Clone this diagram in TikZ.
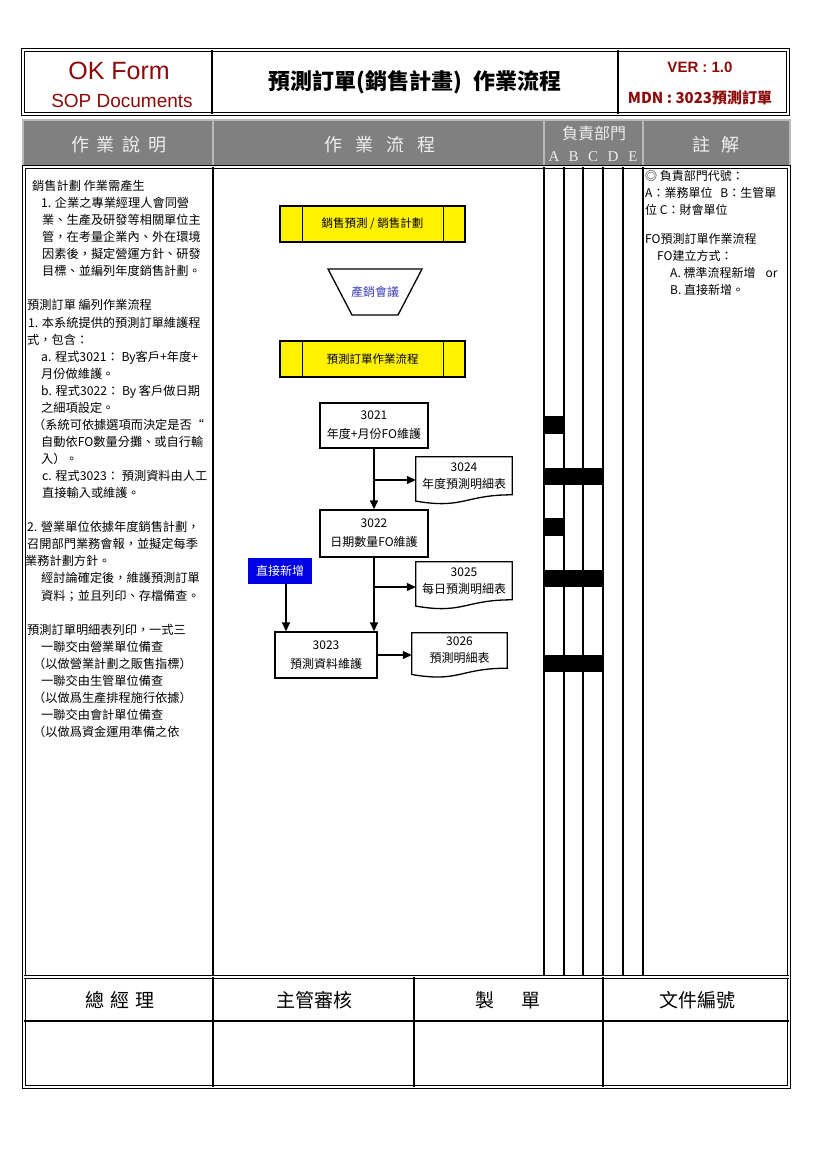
\documentclass[tikz,border=0pt]{standalone}
\usepackage{fontspec}
\setmainfont{Liberation Sans}
\newfontfamily\cjk{Noto Sans CJK TC}
\newfontfamily\abcfont{Liberation Serif}
\usetikzlibrary{
  arrows.meta,  % Triangle 箭頭
  calc,         % 座標計算
  positioning   % 節點相對定位
}
\definecolor{okred}{RGB}{140,10,10}
\definecolor{headgray}{RGB}{128,128,128}
\definecolor{headedge}{RGB}{185,185,185}
\definecolor{headtext}{RGB}{238,238,238}
\definecolor{meetblue}{RGB}{60,60,190}
\definecolor{directblue}{RGB}{0,0,230}

% 預定義處理框兩側的豎線
\newcommand{\sidebars}[1]{%
  \draw[line width=1.3pt] ($(#1.north west)+(23,0)$) -- ($(#1.south west)+(23,0)$);
  \draw[line width=1.3pt] ($(#1.north east)+(-22,0)$) -- ($(#1.south east)+(-22,0)$);}
% 文件（報表）外形：底邊為波浪線
\newcommand{\docoutline}[1]{%
  \draw[line width=1.3pt] (#1.north west) -- (#1.north east) -- (#1.south east)
    .. controls (#1.south) and ($(#1.south)+(0,14.5)$) .. ($(#1.south west)+(0,6.3)$) -- cycle;}

\begin{document}
\begin{tikzpicture}[x=1pt, y=-1pt,
  >={Triangle[length=9pt,width=8pt]},
  frame/.style={double, double distance=1.6pt, line width=0.9pt},
  rule/.style={line width=1.2pt},
  headtitle/.style={text=headtext, font=\cjk\fontsize{18}{18}\selectfont},
  yellowbox/.style={draw, line width=1.3pt, fill=yellow, minimum width=185pt, minimum height=36pt,
    inner sep=0pt, font=\cjk\fontsize{11.5}{14}\selectfont},
  procbox/.style={draw, line width=1.3pt, fill=white, align=center, inner sep=0pt,
    font=\cjk\fontsize{12}{19}\selectfont},
  docbox/.style={align=center, inner sep=0pt, minimum width=96pt, minimum height=37.6pt,
    font=\cjk\fontsize{12}{17}\selectfont},
  flow/.style={->, line width=1.3pt},
  footlabel/.style={font=\cjk\fontsize{19}{19}\selectfont}
]
  \useasboundingbox (0,0) rectangle (827,1170);

  % =============== 表頭：OK Form / 標題 / 版本 ===============
  \draw[frame] (23,50) rectangle (788,114);
  \draw[rule] (212,50) -- (212,114);
  \draw[rule] (618,50) -- (618,114);
  \node[font=\fontsize{25}{25}\selectfont, text=okred] (okform) at (119,71) {OK Form};
  \node[font=\fontsize{19}{19}\selectfont, text=okred] (sopdoc) at (122,101) {SOP Documents};
  \node[font=\cjk\bfseries\fontsize{22}{22}\selectfont] (title) at (415,82)
    {預測訂單(銷售計畫)\hspace{12pt}作業流程};
  \node[font=\bfseries\fontsize{15}{15}\selectfont, text=okred] (ver) at (700,67) {VER : 1.0};
  \node[font=\cjk\bfseries\fontsize{15}{15}\selectfont, text=okred] (mdn) at (700,98) {MDN : 3023預測訂單};

  % =============== 灰色欄名列 ===============
  \fill[headgray] (23,120) rectangle (790,167);
  \draw[headedge, line width=2.5pt] (23,120) rectangle (790,167);
  \foreach \x in {213,544,643} \draw[headedge, line width=1.5pt] (\x,120) -- (\x,167);
  \node[headtitle] (hdesc) at (119,145) {作\hspace{8pt}業\hspace{8pt}說\hspace{8pt}明};
  \node[headtitle] (hflow) at (380,145) {作\hspace{13pt}業\hspace{13pt}流\hspace{13pt}程};
  \node[headtitle, font=\cjk\fontsize{16}{16}\selectfont] (hdept) at (594,133) {負責部門};
  \foreach \c/\x in {A/554, B/573.5, C/593, D/613, E/633}
    \node[text=headtext, font=\abcfont\fontsize{15}{15}\selectfont] (h\c) at (\x,157) {\c};
  \node[headtitle] (hnote) at (716,145) {註\hspace{11pt}解};

  % =============== 表身外框與分欄線 ===============
  \draw[frame] (24,167) rectangle (789,1087);
  \draw[frame] (24,977) -- (789,977);
  \draw[rule] (213,167) -- (213,976);
  \foreach \x in {544,564,583,603,623,643} \draw[rule] (\x,167) -- (\x,976);

  % 負責部門黑條（A~C）
  \foreach \ya/\yb/\xr in {416/434/564, 468/485/603, 518/536/564, 570/587/603, 655/672/603}
    \fill (544,\ya) rectangle (\xr,\yb);

  % =============== 作業說明 ===============
  \node[anchor=north west, align=left, inner sep=0pt, font=\cjk\fontsize{12.2}{17.06}\selectfont] (desc) at (27,180) {%
    \hspace*{5pt}銷售計劃 作業需產生\\
    \hspace*{14pt}1. 企業之專業經理人會同營\\
    \hspace*{15pt}業、生產及研發等相關單位主\\
    \hspace*{15pt}管，在考量企業內、外在環境\\
    \hspace*{15pt}因素後，擬定營運方針、研發\\
    \hspace*{15pt}目標、並編列年度銷售計劃。\\
    \mbox{}\\
    預測訂單 編列作業流程\\
    \hspace*{1pt}1. 本系統提供的預測訂單維護程\\
    式，包含：\\
    \hspace*{14pt}a. 程式3021： By客戶+年度+\\
    \hspace*{14pt}月份做維護。\\
    \hspace*{14pt}b. 程式3022： By 客戶做日期\\
    \hspace*{14pt}之細項設定。\\
    \hspace*{6pt}（系統可依據選項而決定是否“\\
    \hspace*{14pt}自動依FO數量分攤、或自行輸\\
    \hspace*{14pt}入）。\\
    \hspace*{15pt}c. 程式3023： 預測資料由人工\\
    \hspace*{15pt}直接輸入或維護。\\
    \mbox{}\\
    2. 營業單位依據年度銷售計劃，\\
    召開部門業務會報，並擬定每季\\
    \hspace*{-2pt}業務計劃方針。\\
    \hspace*{14pt}經討論確定後，維護預測訂單\\
    \hspace*{14pt}資料；並且列印、存檔備查。\\
    \mbox{}\\
    預測訂單明細表列印，一式三\\
    \hspace*{14pt}一聯交由營業單位備查\\
    \hspace*{6pt}（以做營業計劃之販售指標）\\
    \hspace*{14pt}一聯交由生管單位備查\\
    \hspace*{6pt}（以做爲生產排程施行依據）\\
    \hspace*{14pt}一聯交由會計單位備查\\
    \hspace*{6pt}（以做爲資金運用準備之依};

  % =============== 註解 ===============
  \node[anchor=north west, align=left, inner sep=0pt, font=\cjk\fontsize{12}{16.7}\selectfont] (notes) at (645,170.5) {%
    ◎ 負責部門代號：\\
    A：業務單位\hspace{8pt}B：生管單\\
    位 C：財會單位\\[13pt]
    FO預測訂單作業流程\\
    \hspace*{12pt}FO建立方式：\\
    \hspace*{25pt}A. 標準流程新增\hspace{10pt}or\\
    \hspace*{25pt}B. 直接新增。};

  % =============== 作業流程 ===============
  \node[yellowbox] (salesplan) at (372.5,224) {銷售預測 / 銷售計劃};
  \sidebars{salesplan}

  \node[text=meetblue, font=\cjk\fontsize{12}{12}\selectfont] (meeting) at (375,292) {產銷會議};
  \draw[line width=1.3pt] ($(meeting)+(-47,-23)$) -- ($(meeting)+(47,-23)$)
    -- ($(meeting)+(23,23)$) -- ($(meeting)+(-23,23)$) -- cycle;

  \node[yellowbox] (fcflow) at (372.5,359) {預測訂單作業流程};
  \sidebars{fcflow}

  \node[procbox, minimum width=108pt, minimum height=45pt] (p3021) at (374,425.5) {3021\\年度+月份FO維護};
  \node[procbox, minimum width=108pt, minimum height=47pt] (p3022) at (374,533.5) {3022\\日期數量FO維護};
  \node[procbox, minimum width=102pt, minimum height=46pt] (p3023) at (326,655) {3023\\預測資料維護};

  \node[docbox] (d3024) at (464,475.8) {3024\\年度預測明細表};
  \docoutline{d3024}
  \node[docbox] (d3025) at (464,580.8) {3025\\每日預測明細表};
  \docoutline{d3025}
  \node[docbox, minimum width=95pt, minimum height=35pt] (d3026) at (459.5,650.5) {3026\\預測明細表};
  \docoutline{d3026}

  \node[fill=directblue, text=white, minimum width=64pt, minimum height=26pt, inner sep=0pt,
    font=\cjk\fontsize{12}{12}\selectfont] (direct) at (280,571) {直接新增};

  % 連線
  \draw[flow] (p3021) -- (p3022);
  \coordinate (fork1) at (374,480);
  \draw[flow] (fork1) -- (fork1 -| d3024.west);
  \draw[flow] (p3022.south) -- (p3022.south |- p3023.north);
  \coordinate (fork2) at (374,587);
  \draw[flow] (fork2) -- (fork2 -| d3025.west);
  \draw[flow] ($(direct.south)+(6,0)$) -- ($(direct.south |- p3023.north)+(6,0)$);
  \draw[flow] (p3023.east) -- (p3023.east -| d3026.west);

  % =============== 簽核欄 ===============
  \draw[rule] (24,1021) -- (789,1021);
  \foreach \x in {213,414,603} \draw[rule] (\x,977) -- (\x,1087);
  \node[footlabel] (fgm) at (120,1000) {總\hspace{6pt}經\hspace{6pt}理};
  \node[footlabel] (fmgr) at (314,1000) {主管審核};
  \node[footlabel] (fmake) at (508,1000) {製\hspace{27pt}單};
  \node[footlabel] (fdocno) at (697,1000) {文件編號};

\end{tikzpicture}
\end{document}
